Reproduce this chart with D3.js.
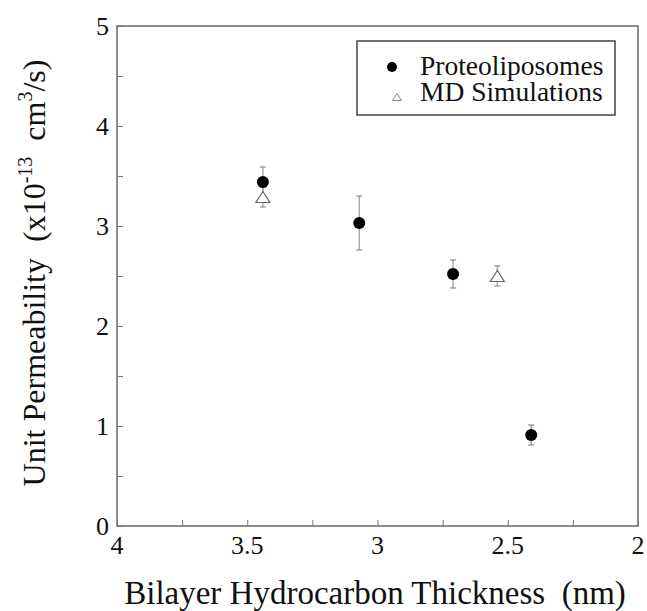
<!DOCTYPE html>
<html>
<head>
<meta charset="UTF-8">
<script src="https://d3js.org/d3.v7.min.js"></script>
<style>
  body { margin: 0; background: white; }
</style>
</head>
<body>
<svg id="chart"></svg>
<script>
  // data
  let thickP = [3.44, 3.07, 2.71, 2.41];
  let permP = [3.44, 3.03, 2.52, 0.91];
  let errP = [0.15, 0.27, 0.14, 0.10];

  let thickMD = [3.44, 2.54];
  let permMD = [3.29, 2.50];
  let errMD = [0.10, 0.10];

  let xTicks = [4, 3.5, 3, 2.5, 2];
  let yTicks = [0, 1, 2, 3, 4, 5];
  let legendLabels = ["Proteoliposomes", "MD Simulations"];

  let width = 647, height = 611;
  let plotL = 117, plotR = 638, plotT = 26, plotB = 526;
  let serif = "'Liberation Serif', 'Times New Roman', 'DejaVu Serif', serif";

  let svg = d3.select("#chart").attr("width", width).attr("height", height)
              .style("font-family", serif);

  let x = d3.scaleLinear().domain([4, 2]).range([plotL, plotR]);
  let y = d3.scaleLinear().domain([0, 5]).range([plotB, plotT]);

  // frame
  svg.append("rect")
     .attr("x", plotL).attr("y", plotT)
     .attr("width", plotR - plotL).attr("height", plotB - plotT)
     .attr("fill", "none").attr("stroke", "#666").attr("stroke-width", 1.5);

  // axes, ticks pointing inward
  let xAxis = d3.axisBottom(x).tickValues(d3.range(4, 1.99, -0.25)).tickSize(-6).tickFormat("");
  let yAxis = d3.axisLeft(y).tickValues(d3.range(0, 5.01, 0.5)).tickSize(-6).tickFormat("");

  let gx = svg.append("g").attr("transform", `translate(0,${plotB})`).call(xAxis);
  let gy = svg.append("g").attr("transform", `translate(${plotL},0)`).call(yAxis);
  [gx, gy].forEach(g => {
    g.select(".domain").remove();
    g.selectAll(".tick line").attr("stroke", "#777").attr("stroke-width", 1);
  });

  let texts = svg.append("g").attr("font-family", serif).attr("fill", "#111");

  texts.selectAll(".xlab").data(xTicks).join("text")
     .attr("class", "xlab")
     .attr("x", d => x(d)).attr("y", 554)
     .attr("text-anchor", "middle").attr("font-size", 26)
     .text(d => d);

  texts.selectAll(".ylab").data(yTicks).join("text")
     .attr("class", "ylab")
     .attr("x", 109).attr("y", d => y(d) + 9)
     .attr("text-anchor", "end").attr("font-size", 26)
     .text(d => d);

  // axis titles
  texts.append("text")
     .attr("x", 375).attr("y", 604)
     .attr("text-anchor", "middle").attr("font-size", 33)
     .text("Bilayer Hydrocarbon Thickness\u00a0\u00a0(nm)");

  let yt = texts.append("text")
     .attr("transform", `translate(45,${(plotT + plotB) / 2 - 3}) rotate(-90)`)
     .attr("text-anchor", "middle").attr("font-size", 32);
  yt.append("tspan").text("Unit Permeability\u00a0\u00a0(x10");
  yt.append("tspan").attr("font-size", 20).attr("dy", -13).text("-13");
  yt.append("tspan").attr("dy", 13).text("\u00a0\u00a0cm");
  yt.append("tspan").attr("font-size", 20).attr("dy", -13).text("3");
  yt.append("tspan").attr("dy", 13).text("/s)");

  // error bars
  function errorBars(xs, ys, es) {
    let data = xs.map((d, i) => ({ x: d, y: ys[i], e: es[i] }));
    let g = svg.append("g");
    g.selectAll("line.v").data(data).join("line")
     .attr("class", "v")
     .attr("x1", d => x(d.x)).attr("x2", d => x(d.x))
     .attr("y1", d => y(d.y - d.e)).attr("y2", d => y(d.y + d.e))
     .attr("stroke", "#aaa").attr("stroke-width", 1.5);
    [1, -1].forEach(s => {
      let cls = s > 0 ? "cup" : "cdn";
      g.selectAll("line." + cls).data(data).join("line")
       .attr("class", cls)
       .attr("x1", d => x(d.x) - 3).attr("x2", d => x(d.x) + 3)
       .attr("y1", d => y(d.y + s * d.e)).attr("y2", d => y(d.y + s * d.e))
       .attr("stroke", "#777").attr("stroke-width", 1);
    });
  }
  errorBars(thickP, permP, errP);
  errorBars(thickMD, permMD, errMD);

  function tri(w, h) {
    return `M0,${-h / 2}L${w / 2},${h / 2}L${-w / 2},${h / 2}Z`;
  }

  svg.selectAll(".md").data(thickMD).join("path")
     .attr("class", "md")
     .attr("d", tri(14, 11))
     .attr("transform", (d, i) => `translate(${x(d)},${y(permMD[i])})`)
     .attr("fill", "white").attr("stroke", "#666").attr("stroke-width", 1.2);

  svg.selectAll(".pl").data(thickP).join("circle")
     .attr("class", "pl")
     .attr("cx", d => x(d)).attr("cy", (d, i) => y(permP[i]))
     .attr("r", 6).attr("fill", "black");

  // legend
  let leg = svg.append("g");
  leg.append("rect")
     .attr("x", 357).attr("y", 41).attr("width", 258).attr("height", 74)
     .attr("fill", "white").attr("stroke", "#444").attr("stroke-width", 1.5);
  leg.append("circle").attr("cx", 392).attr("cy", 67).attr("r", 5).attr("fill", "black");
  leg.append("path").attr("d", tri(9, 7))
     .attr("transform", "translate(397,97)")
     .attr("fill", "white").attr("stroke", "#888").attr("stroke-width", 1);
  leg.selectAll("text").data(legendLabels).join("text")
     .attr("x", 420).attr("y", (d, i) => 75 + i * 26)
     .attr("font-family", serif).attr("fill", "#111")
     .attr("font-size", 27.5)
     .text(d => d);
</script>
</body>
</html>
